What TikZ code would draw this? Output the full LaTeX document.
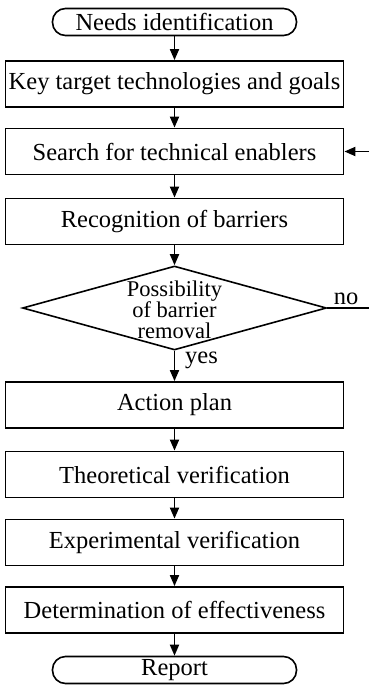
\documentclass[tikz,border=0pt]{standalone}
\usepackage{fontspec}
\setmainfont{Liberation Serif}
\usetikzlibrary{shapes.geometric,arrows.meta}
\begin{document}
\begin{tikzpicture}[x=1pt,y=1pt,
  every node/.style={font=\fontsize{24.5}{18.5}\selectfont, inner sep=0pt},
  procbox/.style={draw, line width=1.8pt, minimum width=338pt, minimum height=46pt},
  termbox/.style={draw, line width=1.6pt, rounded corners=13pt, minimum width=244pt, minimum height=27pt},
  decbox/.style={draw, line width=1.6pt, diamond, minimum width=304pt, minimum height=84pt},
  dectext/.style={align=center, font=\fontsize{22.5}{21}\selectfont},
  flow/.style={line width=1.8pt, -{Triangle[length=11pt,width=9pt]}},
  plainline/.style={line width=1.8pt}]
\useasboundingbox (0,0) rectangle (369,-687);
\node[termbox] (needs) at (174.5,-22) {Needs identification};
\node[procbox] (key) at (174.5,-84) {Key target technologies and goals};
\node[procbox] (search) at (174.5,-151.5) {Search for technical enablers};
\node[procbox] (recog) at (174.5,-221.5) {Recognition of barriers};
\node[decbox] (dec) at (174.5,-308) {};
\node[dectext] (dectxt) at ([yshift=-2pt]dec.center) {Possibility\\of barrier\\removal};
\node[procbox] (action) at (174.5,-405) {Action plan};
\node[procbox] (theo) at (174.5,-474.5) {Theoretical verification};
\node[procbox] (exper) at (174.5,-542.5) {Experimental verification};
\node[procbox] (determ) at (174.5,-610) {Determination of effectiveness};
\node[termbox] (report) at (174.5,-670) {Report};
\node[anchor=west] (yes) at (185,-360) {yes};
\coordinate (noend) at (369,-308);
\coordinate (backin) at (369,-151.5);
\node[anchor=south] (no) at (346,-305) {no};
\draw[flow] (needs) -- (key);
\draw[flow] (key) -- (search);
\draw[flow] (search) -- (recog);
\draw[flow] (recog) -- (dec);
\draw[flow] (dec) -- (action);
\draw[flow] (action) -- (theo);
\draw[flow] (theo) -- (exper);
\draw[flow] (exper) -- (determ);
\draw[flow] (determ) -- (report);
\draw[plainline] (dec.east) -- (noend);
\draw[flow] (backin) -- (search.east);
\end{tikzpicture}
\end{document}
